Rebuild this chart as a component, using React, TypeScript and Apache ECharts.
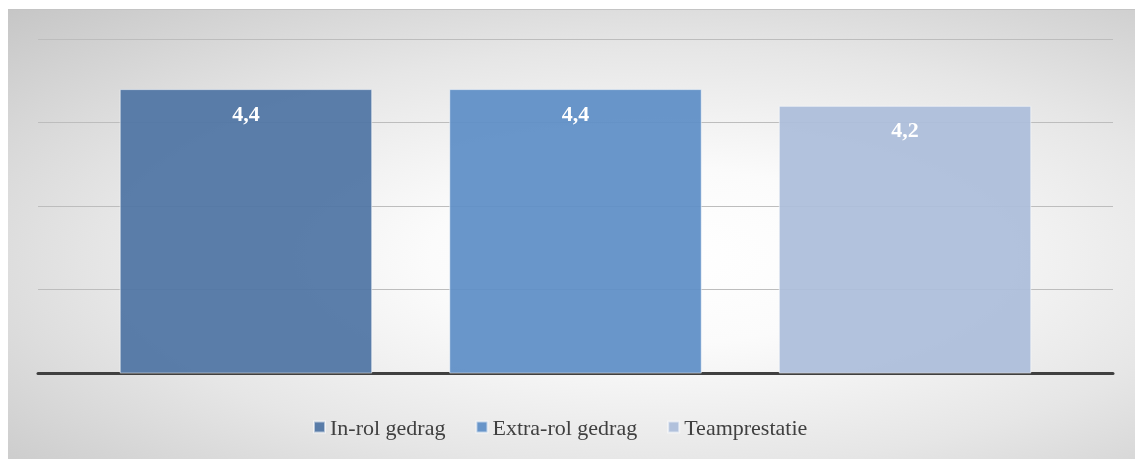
import React, { useEffect, useRef } from "react";
import * as echarts from "echarts";

const categories = [""];
const seriesNames = ["In-rol gedrag", "Extra-rol gedrag", "Teamprestatie"];
const seriesValues = [[4.4], [4.4], [4.2]];
const seriesColors = ["rgba(79,116,164,0.93)", "rgba(94,142,198,0.93)", "rgba(172,189,218,0.93)"];
const yMin = 1;
const yMax = 5;
const yInterval = 1;

export default function App() {
  const ref = useRef<HTMLDivElement>(null);
  useEffect(() => {
    if (!ref.current) return;
    const chart = echarts.init(ref.current, undefined, { renderer: "svg" });
    const font = "Liberation Serif";
    chart.setOption({
      animation: false,
      backgroundColor: "transparent",
      textStyle: { fontFamily: font },
      grid: { left: 30, right: 22, top: 29, bottom: 86, containLabel: false },
      legend: {
        data: seriesNames,
        bottom: 16,
        left: 300,
        icon: "rect",
        itemWidth: 11,
        itemHeight: 11,
        itemGap: 30,
        textStyle: { fontFamily: font, fontSize: 22, color: "#404040" },
      },
      xAxis: {
        type: "category",
        data: categories,
        axisLine: { show: true, lineStyle: { color: "#404040", width: 3 } },
        axisTick: { show: false },
        axisLabel: { show: false },
      },
      yAxis: {
        type: "value",
        min: yMin,
        max: yMax,
        interval: yInterval,
        axisLine: { show: false },
        axisTick: { show: false },
        axisLabel: { show: false },
        splitLine: { lineStyle: { color: "#bdbdbd", width: 1 } },
      },
      series: seriesNames.map((name, i) => ({
        name,
        type: "bar",
        data: seriesValues[i],
        barCategoryGap: "15.2%",
        barGap: "30.5%",
        itemStyle: {
          color: seriesColors[i],
          borderColor: "rgba(255,255,255,0.55)",
          borderWidth: 1,
        },
        label: {
          show: true,
          position: "insideTop",
          distance: 13,
          color: "#ffffff",
          fontFamily: font,
          fontWeight: "bold",
          fontSize: 22,
          formatter: (p: any) => String(p.value).replace(".", ","),
        },
      })),
    });
    return () => chart.dispose();
  }, []);
  return (
    <div
      ref={ref}
      style={{
        position: "fixed",
        left: 8,
        top: 9,
        width: 1127,
        height: 450,
        boxSizing: "border-box",
        borderTop: "1px solid #c4c4c4",
        background:
          "radial-gradient(ellipse at 58% 55%, #ffffff 0%, #fbfbfb 25%, #e6e6e6 60%, #c6c6c6 100%)",
      }}
    />
  );
}
